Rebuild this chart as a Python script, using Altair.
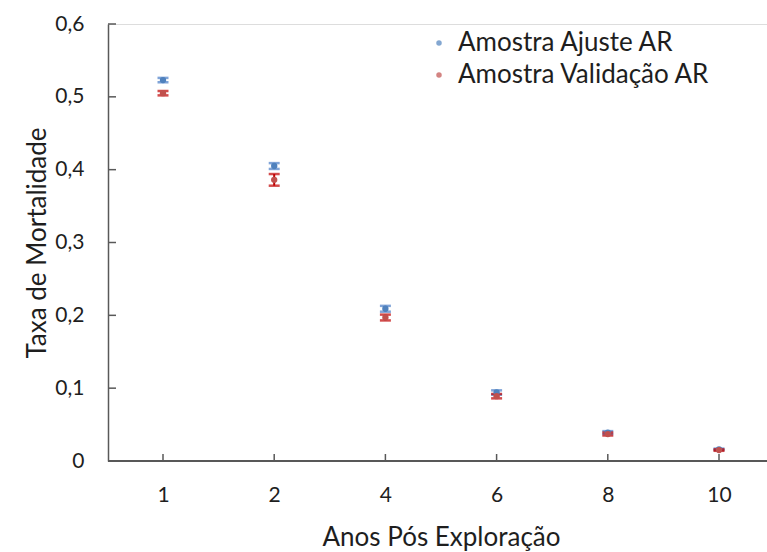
import altair as alt
import pandas as pd

years = ["1", "2", "4", "6", "8", "10"]
series = ["Amostra Ajuste AR", "Amostra Validação AR"]
ajuste_mean = [0.523, 0.405, 0.209, 0.094, 0.039, 0.016]
ajuste_err = [0.003, 0.004, 0.004, 0.003, 0.002, 0.001]
valid_mean = [0.505, 0.386, 0.197, 0.089, 0.037, 0.015]
valid_err = [0.003, 0.008, 0.004, 0.003, 0.002, 0.001]
y_ticks = [0.1, 0.2, 0.3, 0.4, 0.5, 0.6]

point_colors = ["#4F81BD", "#C0504D"]
bar_colors = ["#4A7EC8", "#C00000"]

rows = []
for i, y in enumerate(years):
    rows.append({"ano": y, "serie": series[0], "v": ajuste_mean[i],
                 "lo": ajuste_mean[i] - ajuste_err[i], "hi": ajuste_mean[i] + ajuste_err[i],
                 "ecol": bar_colors[0]})
for i, y in enumerate(years):
    rows.append({"ano": y, "serie": series[1], "v": valid_mean[i],
                 "lo": valid_mean[i] - valid_err[i], "hi": valid_mean[i] + valid_err[i],
                 "ecol": bar_colors[1]})
df = pd.DataFrame(rows)

W, H = 659, 437
FONT = "Lato"
TXT = "#1e1e1e"
AX = "#595959"

xscale = alt.Scale(type="point", domain=years, range=[55, 611], padding=0)
yscale = alt.Scale(domain=[0, 0.6], nice=False)

x_enc = alt.X("ano:N", scale=xscale, sort=years,
              axis=alt.Axis(title="Anos Pós Exploração", labelAngle=0, ticks=False,
                            domain=False,
                            labelPadding=23, titlePadding=19, labelFontSize=21,
                            titleFontSize=26, labelColor=TXT, titleColor=TXT,
                            labelFont=FONT, titleFont=FONT, titleFontWeight="normal"))
y_axis = alt.Axis(title="Taxa de Mortalidade", values=[0] + y_ticks, ticks=False,
                  grid=False, labelPadding=24, titlePadding=4, labelFontSize=21,
                  titleFontSize=26, domainColor=AX, domainWidth=1.5, labelColor=TXT,
                  titleColor=TXT, labelFont=FONT, titleFont=FONT,
                  titleFontWeight="normal",
                  labelExpr="datum.value == 0 ? '0' : replace(format(datum.value, '.1f'), '.', ',')")

base = alt.Chart(df)
x_plain = alt.X("ano:N", scale=xscale, sort=years)

err_rule = base.mark_rule(strokeWidth=2).encode(
    x=x_enc,
    y=alt.Y("lo:Q", scale=yscale, axis=y_axis),
    y2="hi:Q",
    color=alt.Color("ecol:N", scale=None),
)
cap_lo = base.mark_tick(size=11, thickness=2.5, orient="horizontal").encode(
    x=x_plain, y=alt.Y("lo:Q", scale=yscale), color=alt.Color("ecol:N", scale=None))
cap_hi = base.mark_tick(size=11, thickness=2.5, orient="horizontal").encode(
    x=x_plain, y=alt.Y("hi:Q", scale=yscale), color=alt.Color("ecol:N", scale=None))

points = base.mark_circle(size=40, opacity=1).encode(
    x=x_plain,
    y=alt.Y("v:Q", scale=yscale),
    color=alt.Color("serie:N", scale=alt.Scale(domain=series, range=point_colors),
                    legend=alt.Legend(title=None, orient="none", legendX=318, legendY=6,
                                      labelFontSize=26, labelFont=FONT, labelColor=TXT,
                                      labelLimit=0, symbolSize=30, symbolType="circle",
                                      rowPadding=6, labelOffset=6)),
)

tick_df = pd.DataFrame({"ano": years})
xticks = alt.Chart(tick_df).mark_rule(color=AX, strokeWidth=1.5).encode(
    x=x_plain,
    y=alt.value(H - 7), y2=alt.value(H),
)
xline = alt.Chart(tick_df).mark_rule(color=AX, strokeWidth=1.5).encode(
    x=alt.value(0), x2=alt.value(W), y=alt.value(H),
)
ytick_df = pd.DataFrame({"t": y_ticks})
yticks = alt.Chart(ytick_df).mark_rule(color=AX, strokeWidth=1.5).encode(
    y=alt.Y("t:Q", scale=yscale),
    x=alt.value(0), x2=alt.value(8),
)

chart = alt.layer(err_rule, cap_lo, cap_hi, points, xline, xticks, yticks).properties(
    width=W, height=H,
    autosize=alt.AutoSizeParams(type="none"),
    padding={"left": 108, "top": 24, "right": 0, "bottom": 91},
).configure_view(stroke=None).configure(background="white")

chart.save("out.html", embed_options={"renderer": "svg", "actions": False})
